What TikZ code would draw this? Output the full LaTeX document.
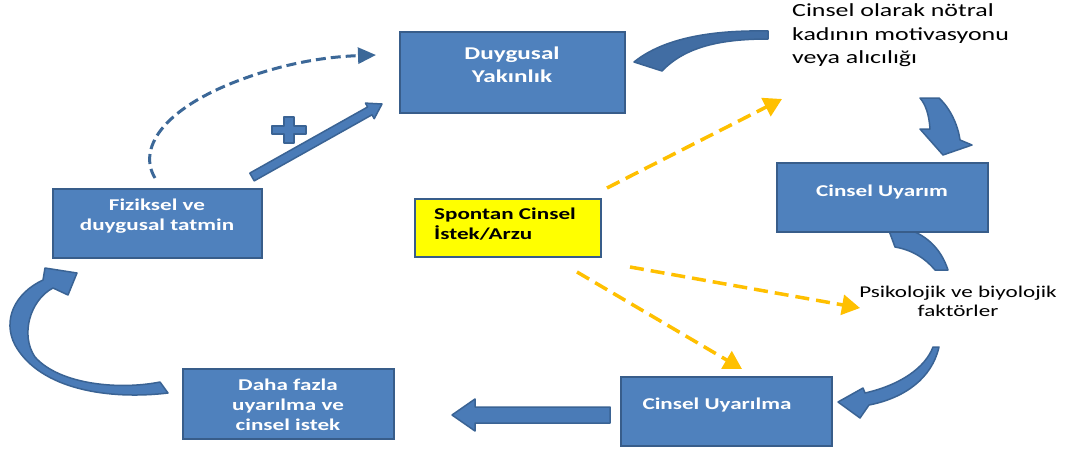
\documentclass[tikz,border=0pt]{standalone}
\usepackage{fontspec}
\newfontfamily\cf[FakeStretch=1.4]{Carlito}
\usetikzlibrary{arrows.meta}
\definecolor{boxblue}{HTML}{4F81BD}
\definecolor{boxedge}{HTML}{385D8A}
\definecolor{arrblue}{HTML}{4A7BB7}
\definecolor{arrdark}{HTML}{416DA3}
\definecolor{arredge}{HTML}{3A6394}
\definecolor{dashblue}{HTML}{3C6898}
\definecolor{orangey}{HTML}{FFC000}
\definecolor{yellowbox}{HTML}{FFFF00}
\begin{document}
\begin{tikzpicture}[x=1pt,y=-1pt,
 box/.style={draw=boxedge, fill=boxblue, line width=2.5pt, inner sep=0pt, outer sep=0pt},
 ybox/.style={box, fill=yellowbox, line width=2pt},
 btext/.style={text=white, font=\cf\bfseries\fontsize{16.5}{20}\selectfont, align=center, inner sep=0pt},
 ytext/.style={text=black, font=\cf\bfseries\fontsize{16.5}{20}\selectfont, align=left, inner sep=0pt, anchor=west},
 ntext/.style={text=black, font=\cf\fontsize{16.5}{19}\selectfont, align=center, inner sep=0pt},
 blockarrow/.style={fill=arrblue, draw=arredge, line width=1.5pt, line join=round},
 ydash/.style={draw=orangey, line width=3.5pt, dash pattern=on 14pt off 7pt, -{Triangle[length=18pt,width=20pt]}},
 bdash/.style={draw=dashblue, line width=3pt, dash pattern=on 10pt off 5pt, -{Triangle[length=18pt,width=16pt]}},
]
\fill[white] (0,0) rectangle (1066,452);
\useasboundingbox (0,0) rectangle (1066,452);

% upper part of the arc below "Cinsel Uyarim" (drawn under the box)
\draw[blockarrow] (888,228) -- (895,247) .. controls (912,250) and (925,258) .. (935,270)
  -- (948,270) .. controls (942,252) and (930,236) .. (905,228) -- cycle;

% boxes
\node[box, minimum width=225pt, minimum height=81pt] (duy) at (512.5,72.5) {};
\node[box, minimum width=209pt, minimum height=69pt] (fiz) at (157.5,223.5) {};
\node[ybox, minimum width=186pt, minimum height=58pt] (spo) at (508,228) {};
\node[box, minimum width=211pt, minimum height=69pt] (uyarim) at (882.5,197.5) {};
\node[box, minimum width=211pt, minimum height=69pt] (uyarilma) at (726.5,411.5) {};
\node[box, minimum width=211pt, minimum height=70pt] (daha) at (288.5,404) {};

% box texts
\node[btext, font=\cf\bfseries\fontsize{18}{23}\selectfont] (duyT) at (512,64.5) {Duygusal\\Yakınlık};
\node[btext] (fizT) at (157,216) {Fiziksel ve\\duygusal tatmin};
\node[ytext] (spoT) at (434,224) {Spontan Cinsel\\İstek/Arzu};
\node[btext] (uyarimT) at (882,192) {Cinsel Uyarım};
\node[btext] (uyarilmaT) at (717,405) {Cinsel Uyarılma};
\node[btext] (dahaT) at (288,405) {Daha fazla\\uyarılma ve\\cinsel istek};

% free texts
\node[ntext, align=left, anchor=west, font=\cf\fontsize{18.5}{23.5}\selectfont] (motiv) at (792,35.5)
  {Cinsel olarak nötral\\kadının motivasyonu\\veya alıcılığı};
\node[ntext] (faktor) at (958,301.5) {Psikolojik ve biyolojik\\faktörler};

% top curved band towards "Duygusal Yakinlik"
\draw[blockarrow, fill=arrdark] (768,31) .. controls (715,30) and (665,37) .. (634,62)
  -- (662,71) .. controls (685,47) and (720,39) .. (768,39) -- cycle;

% curved arrow down to "Cinsel Uyarim"
\draw[blockarrow] (920,98) -- (939,98) .. controls (950,108) and (958,125) .. (960,140)
  -- (972,145) -- (943,155) -- (920,129) -- (930,129)
  .. controls (929,115) and (926,105) .. (920,98) -- cycle;

% lower curved arrow to "Cinsel Uyarilma"
\draw[blockarrow] (933,347) -- (939,347) .. controls (932,378) and (905,398) .. (869,405)
  -- (860,418) -- (838,402) -- (863,388) -- (865,393)
  .. controls (900,385) and (925,368) .. (933,347) -- cycle;

% straight arrow to "Daha fazla"
\draw[blockarrow] (610,407) -- (475,407) -- (475,399) -- (452,415) -- (475,431) -- (475,423) -- (610,423) -- cycle;

% left curved arrow to "Fiziksel ve duygusal tatmin"
\draw[blockarrow] (168,393) .. controls (110,400) and (40,390) .. (15,345)
  .. controls (2,320) and (15,293) .. (43,280) -- (45,268) -- (77,273) -- (68,295) -- (53,288)
  .. controls (30,300) and (20,335) .. (35,357)
  .. controls (60,385) and (120,390) .. (160,382) -- cycle;

% straight diagonal arrow with plus sign
\draw[blockarrow] (249.8,173.1) -- (367.6,107.0) -- (365.4,103.1) -- (382,104) -- (374.2,118.7)
  -- (372.0,114.8) -- (254.2,180.9) -- cycle;
\draw[blockarrow] (272,126) -- (284,126) -- (284,117) -- (294,117) -- (294,126) -- (306,126)
  -- (306,134) -- (294,134) -- (294,143) -- (284,143) -- (284,134) -- (272,134) -- cycle;

% dashed blue arc
\coordinate (bs) at (155,178);
\coordinate (be) at (376,55);
\draw[bdash] (bs) .. controls (138,150) and (160,110) .. (240,80) .. controls (280,65) and (320,57) .. (be);

% yellow dashed arrows
\coordinate (y1s) at (607,188);
\coordinate (y1e) at (782,99);
\coordinate (y2s) at (630,267);
\coordinate (y2e) at (860,308);
\coordinate (y3s) at (577,272);
\coordinate (y3e) at (742,369);
\draw[ydash] (y1s) -- (y1e);
\draw[ydash] (y2s) -- (y2e);
\draw[ydash] (y3s) -- (y3e);
\end{tikzpicture}
\end{document}
